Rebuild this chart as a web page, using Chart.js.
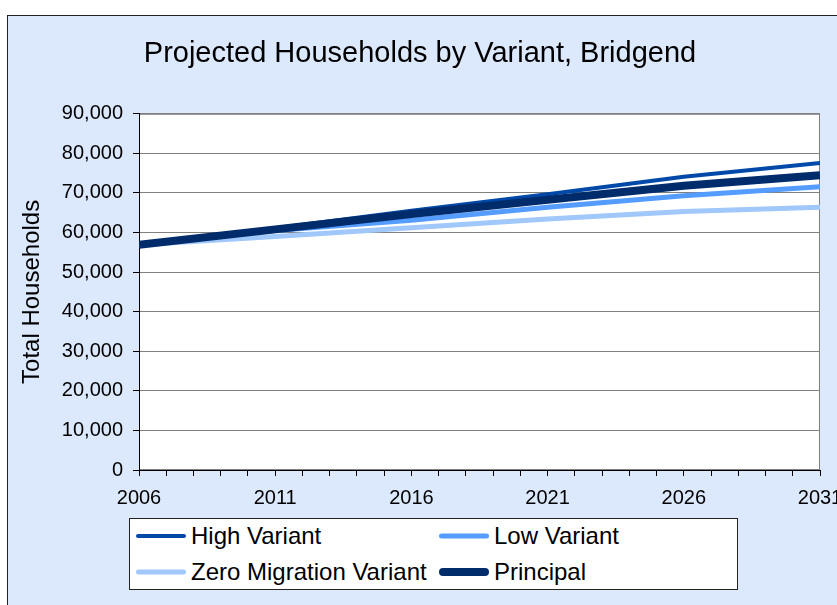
<!DOCTYPE html>
<html>
<head>
<meta charset="utf-8">
<script src="https://cdn.jsdelivr.net/npm/chart.js@4"></script>
<style>
    body { margin: 0; width: 837px; height: 605px; overflow: hidden; background: #fff; position: relative; font-family: "Liberation Sans", Arial, sans-serif; }
    #panel { position: absolute; left: 7px; top: 15px; width: 900px; height: 700px; border: 1px solid #222; background: #dce9fc; }
    #wrap { position: absolute; left: 0; top: 0; width: 870px; height: 605px; }
    #legend { position: absolute; left: 129px; top: 518px; width: 609px; height: 72px; border: 1px solid #222; background: #fff; box-sizing: border-box; }
    .item { position: absolute; height: 30px; font-size: 24px; line-height: 30px; color: #000; white-space: nowrap; }
    .item span.swatch { position: absolute; left: 0; top: 50%; width: 50px; border-radius: 4px; transform: translateY(-50%); }
    .item span.text { position: absolute; left: 55px; top: 0; }
</style>
</head>
<body>
<div id="panel"></div>
<div id="wrap"><canvas id="householdsChart"></canvas></div>
<div id="legend"></div>
<script>
// Data
const years = [2006, 2011, 2016, 2021, 2026, 2031];
const highVariant = [56900, 61100, 65500, 69700, 74100, 77600];
const lowVariant = [56900, 60500, 63100, 66400, 69300, 71600];
const zeroMigration = [56900, 59000, 61200, 63400, 65300, 66400];
const principal = [56900, 60800, 64700, 68300, 71800, 74500];

const yTicks = { min: 0, max: 90000, step: 10000 };
const xTicks = { min: 2006, max: 2031, step: 1, labelEvery: 5 };

function points(values) {
    return values.map((v, i) => ({ x: years[i], y: v }));
}

const series = [
    { label: 'High Variant', data: highVariant, color: '#0049a8', width: 4, order: 1 },
    { label: 'Low Variant', data: lowVariant, color: '#559cff', width: 5, order: 2 },
    { label: 'Zero Migration Variant', data: zeroMigration, color: '#a0c8fa', width: 5, order: 3 },
    { label: 'Principal', data: principal, color: '#002c6c', width: 8, order: 0 }
];

// White plot area with grey frame
const plotArea = {
    id: 'plotArea',
    beforeDraw(chart) {
        const { ctx, chartArea: a } = chart;
        ctx.save();
        ctx.fillStyle = '#fff';
        ctx.fillRect(a.left, a.top, a.right - a.left, a.bottom - a.top);
        ctx.strokeStyle = '#808080';
        ctx.lineWidth = 1;
        ctx.strokeRect(a.left + 0.5, a.top + 0.5, a.right - a.left - 1, a.bottom - a.top - 1);
        ctx.restore();
    }
};

const ctx = document.getElementById('householdsChart').getContext('2d');
const chart = new Chart(ctx, {
    type: 'line',
    data: {
        datasets: series.map(s => ({
            label: s.label,
            data: points(s.data),
            borderColor: s.color,
            backgroundColor: s.color,
            borderWidth: s.width,
            pointRadius: 0,
            tension: 0,
            fill: false,
            order: s.order
        }))
    },
    options: {
        responsive: true,
        maintainAspectRatio: false,
        animation: false,
        layout: { padding: { left: 20, right: 50, top: 20, bottom: 90 } },
        plugins: {
            legend: { display: false },
            tooltip: { enabled: false },
            title: {
                display: true,
                text: 'Projected Households by Variant, Bridgend',
                color: '#000',
                font: { family: 'Liberation Sans', size: 29, weight: 'normal' },
                padding: { top: 17, bottom: 42 }
            }
        },
        scales: {
            x: {
                type: 'linear',
                min: xTicks.min,
                max: xTicks.max,
                afterFit: (scale) => { scale.height = 45; },
                grid: { drawOnChartArea: false, color: '#000', tickLength: 6 },
                border: { color: '#000', width: 1 },
                ticks: {
                    stepSize: xTicks.step,
                    autoSkip: false,
                    maxRotation: 0,
                    color: '#000',
                    padding: 10,
                    font: { family: 'Liberation Sans', size: 20 },
                    callback: (v) => ((v - xTicks.min) % xTicks.labelEvery === 0 ? String(v) : '')
                }
            },
            y: {
                min: yTicks.min,
                max: yTicks.max,
                afterFit: (scale) => { scale.width = 119; },
                grid: { color: '#808080', tickLength: 6, tickColor: '#000' },
                border: { color: '#000', width: 1 },
                title: {
                    display: true,
                    text: 'Total Households',
                    color: '#000',
                    font: { family: 'Liberation Sans', size: 24 },
                    padding: { top: -2, bottom: 0 }
                },
                ticks: {
                    stepSize: yTicks.step,
                    color: '#000',
                    padding: 10,
                    font: { family: 'Liberation Sans', size: 20 },
                    callback: (v) => v.toLocaleString('en-US')
                }
            }
        }
    },
    plugins: [plotArea]
});

// Legend laid out in two columns like the original
const legendEl = document.getElementById('legend');
const cols = [6, 309];
const rows = [2, 38];
chart.data.datasets.forEach((ds, i) => {
    const item = document.createElement('div');
    item.className = 'item';
    item.style.left = cols[i % 2] + 'px';
    item.style.top = rows[Math.floor(i / 2)] + 'px';
    const swatch = document.createElement('span');
    swatch.className = 'swatch';
    swatch.style.background = ds.borderColor;
    swatch.style.height = ds.borderWidth + 'px';
    const text = document.createElement('span');
    text.className = 'text';
    text.textContent = ds.label;
    item.appendChild(swatch);
    item.appendChild(text);
    legendEl.appendChild(item);
});
</script>
</body>
</html>
